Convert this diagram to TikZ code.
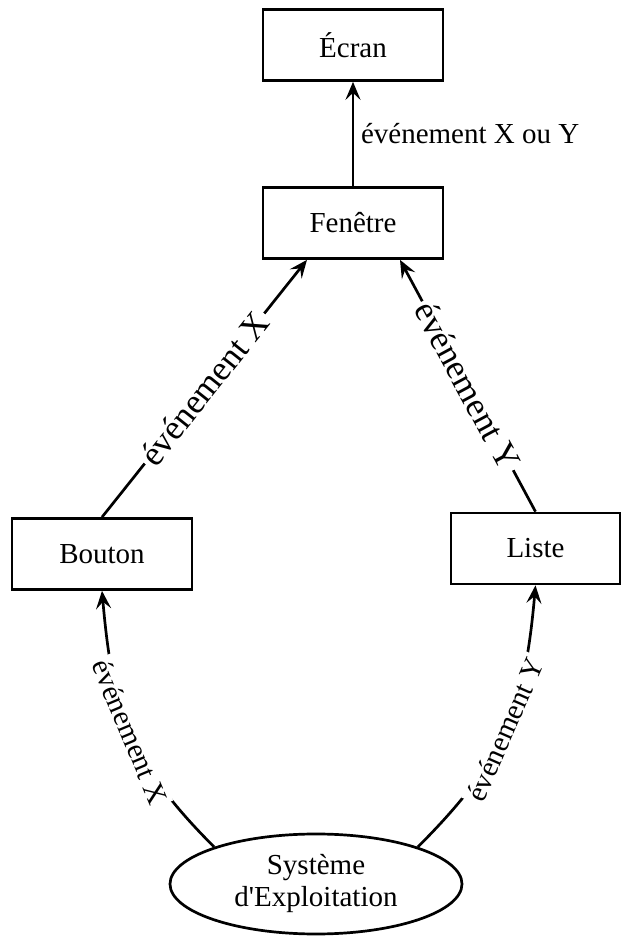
\documentclass[tikz,border=0pt]{standalone}
\usepackage{fontspec}
\setmainfont{Liberation Serif}
\usetikzlibrary{arrows.meta,positioning,shapes.geometric}

\begin{document}
\begin{tikzpicture}[x=0.5pt,y=0.5pt,
    font=\fontsize{14.5}{16}\selectfont,
    line width=1.35pt,
    boite/.style={draw, rectangle, minimum width=90pt, minimum height=35.5pt},
    fleche/.style={-{Stealth[length=9pt,width=7.5pt,inset=3.5pt]}},
    evt/.style={midway, sloped, fill=white, inner sep=1.5pt},
    grand/.style={font=\fontsize{17.5}{19}\selectfont}]
    \useasboundingbox (0,0) rectangle (621,944);
    \node[boite] (ecran) at (353,899) {Écran};
    \node[boite] (fenetre) at (353,721) {Fenêtre};
    \node[boite] (bouton) at (102,390) {Bouton};
    \node[boite, minimum width=84.5pt] (liste) at (535.5,395.5) {Liste};
    \node[draw, ellipse, minimum width=146pt, minimum height=50pt,
        inner sep=0pt, align=center] (systeme) at (316,60) {Système\\d\textquotesingle Exploitation};
    \draw[fleche] (fenetre) -- (ecran) node[midway, right] {événement X ou Y};
    \draw[fleche] (bouton.north) -- ([xshift=-23pt]fenetre.south) node[evt, grand] {événement X};
    \draw[fleche] (liste.north) -- ([xshift=23.5pt]fenetre.south) node[evt, grand] {événement Y};
    \draw[fleche] (systeme.160) to[out=135, in=-85, looseness=1.1]
        node[evt] {événement X} (bouton.south);
    \draw[fleche] (systeme.20) to[out=45, in=-95, looseness=1.1]
        node[evt] {événement Y} (liste.south);
\end{tikzpicture}
\end{document}
